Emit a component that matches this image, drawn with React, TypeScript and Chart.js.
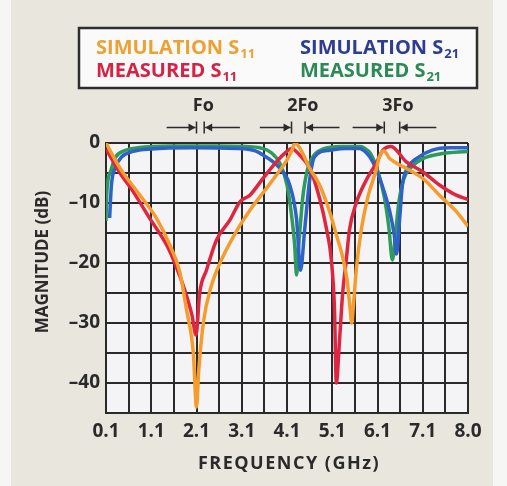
import React, { useEffect, useRef } from "react";
import { Chart, registerables } from "chart.js";

Chart.register(...registerables);

// ---- Data (frequency axis in GHz; the right edge grid line is labelled "8.0") ----
const simS11Freq = [0.1, 0.41, 0.85, 1.22, 1.51, 1.73, 1.88, 2.03, 2.1, 2.15, 2.26, 2.42, 2.65, 3.0, 3.3, 3.6, 3.9, 4.1, 4.22, 4.27, 4.38, 4.6, 4.82, 5.04, 5.19, 5.33, 5.43, 5.5, 5.53, 5.56, 5.63, 5.74, 5.89, 6.07, 6.14, 6.24, 6.37, 6.73, 7.1, 7.47, 7.84, 8.1];
const simS11Mag = [0, -4.2, -8.7, -12.6, -17, -21.5, -27.8, -35, -44, -37.8, -29.5, -24, -19.5, -14.5, -11, -8, -5, -2.8, -1, 0, -0.8, -4.2, -7, -11.4, -15.3, -19, -23, -28, -30, -27.8, -21.2, -14.5, -8.9, -4.5, -2.3, -1.3, -2.6, -4.2, -5.9, -8.7, -11.4, -13.9];

const measS11Freq = [0.1, 0.26, 0.41, 0.7, 1.07, 1.44, 1.62, 1.84, 2.0, 2.09, 2.17, 2.32, 2.54, 2.84, 3.06, 3.28, 3.57, 3.87, 4.09, 4.2, 4.38, 4.6, 4.82, 4.97, 5.08, 5.15, 5.19, 5.26, 5.33, 5.41, 5.48, 5.63, 5.85, 6.07, 6.22, 6.4, 6.73, 7.1, 7.47, 7.84, 8.1];
const measS11Mag = [-1, -3.1, -5, -8.1, -12.6, -17, -20, -24.5, -28.7, -32, -25, -21.2, -16.2, -12.8, -9.8, -8.7, -5.9, -3.1, -1.45, -0.9, -2, -4.2, -9.2, -14.2, -19.5, -27.8, -40, -33, -25, -19.5, -14.5, -10, -6.2, -3.4, -1.2, -0.6, -3.1, -4.8, -7, -8.7, -9.4];

const simS21Freq = [0.18, 0.22, 0.3, 0.45, 0.7, 1.1, 2.0, 3.0, 3.4, 3.57, 3.94, 4.16, 4.31, 4.4, 4.49, 4.6, 4.71, 5.04, 5.4, 5.7, 5.85, 6.0, 6.2, 6.37, 6.47, 6.52, 6.59, 6.65, 6.76, 6.96, 7.31, 7.69, 8.1];
const simS21Mag = [-12.5, -7, -4.2, -2.3, -1.4, -1, -0.8, -0.9, -1.3, -2, -4.2, -7, -12.6, -21.2, -14.5, -6.2, -2.3, -1.2, -0.9, -0.9, -1.6, -3.2, -7, -11.4, -15.3, -18.5, -12.6, -7, -4.2, -2.6, -1.2, -0.8, -0.8];

const measS21Freq = [0.1, 0.12, 0.2, 0.3, 0.5, 0.8, 1.5, 2.5, 3.2, 3.5, 3.75, 3.95, 4.1, 4.2, 4.27, 4.31, 4.36, 4.45, 4.55, 4.7, 4.9, 5.3, 5.7, 5.8, 5.95, 6.1, 6.25, 6.35, 6.43, 6.5, 6.57, 6.68, 6.85, 7.1, 7.5, 8.1];
const measS21Mag = [-13, -8, -4.8, -2.5, -1.3, -0.8, -0.5, -0.5, -0.6, -0.8, -1.6, -3.5, -7, -12, -17, -22, -17, -9, -4.5, -2, -1, -0.6, -0.6, -0.8, -1.8, -4.5, -9, -14, -19.5, -15, -10, -6, -4, -2.6, -1.8, -1.4];

// Axis ticks / labels
const xGridValues = [0.1, 0.6, 1.1, 1.6, 2.1, 2.6, 3.1, 3.6, 4.1, 4.6, 5.1, 5.6, 6.1, 6.6, 7.1, 7.6, 8.1];
const xLabelValues = [0.1, 1.1, 2.1, 3.1, 4.1, 5.1, 6.1, 7.1, 8.1];
const xLabelTexts = ["0.1", "1.1", "2.1", "3.1", "4.1", "5.1", "6.1", "7.1", "8.0"];
const yLabelValues = [0, -10, -20, -30, -40];
const yLabelTexts = ["0", "\u201310", "\u201320", "\u201330", "\u201340"];

// Harmonic markers
const harmonicLabels = ["Fo", "2Fo", "3Fo"];
const harmonicTextX = [2.25, 4.45, 6.55];
const harmonicBarLeft = [2.1, 4.2, 6.25];
const harmonicBarRight = [2.27, 4.5, 6.59];
const harmonicArrowFrom = [1.44, 3.5, 5.55];
const harmonicArrowTo = [3.06, 5.26, 7.4];

const FONT = '"Open Sans", "DejaVu Sans", sans-serif';
const INK = "#2a2a2a";

const toPoints = (xs: number[], ys: number[]) => xs.map((x, i) => ({ x, y: ys[i] }));

const bgPlugin = {
  id: "bgPlugin",
  beforeDraw(chart: any) {
    const { ctx, width, height, chartArea } = chart;
    ctx.save();
    ctx.fillStyle = "#e9e6de";
    ctx.fillRect(0, 0, width, height);
    ctx.fillStyle = "#f6f6f4";
    ctx.fillRect(0, 0, 11, height);
    ctx.fillRect(width - 14, 0, 14, height);
    ctx.fillStyle = "#f4f4f6";
    ctx.fillRect(chartArea.left, chartArea.top, chartArea.right - chartArea.left, chartArea.bottom - chartArea.top);
    ctx.restore();
  },
};

function drawSubLabel(ctx: CanvasRenderingContext2D, x: number, y: number, main: string, sub: string, color: string) {
  ctx.fillStyle = color;
  ctx.font = `bold 20px ${FONT}`;
  ctx.textAlign = "left";
  ctx.textBaseline = "alphabetic";
  ctx.fillText(main, x, y);
  const w = ctx.measureText(main).width;
  ctx.font = `bold 13px ${FONT}`;
  ctx.fillText(sub, x + w + 1, y + 4);
}

const overlayPlugin = {
  id: "overlayPlugin",
  afterDraw(chart: any) {
    const { ctx } = chart;
    const xs = chart.scales.x;
    ctx.save();
    // legend box
    ctx.fillStyle = "#fafafa";
    ctx.fillRect(79, 28, 398, 60);
    ctx.strokeStyle = "#2e2e2e";
    ctx.lineWidth = 2.5;
    ctx.strokeRect(79, 28, 398, 60);
    drawSubLabel(ctx, 96, 54, "SIMULATION S", "11", "#eea133");
    drawSubLabel(ctx, 96, 77, "MEASURED S", "11", "#d62243");
    drawSubLabel(ctx, 300, 54, "SIMULATION S", "21", "#2d3d8f");
    drawSubLabel(ctx, 300, 77, "MEASURED S", "21", "#2b8a56");

    // harmonic markers
    const ay = 127.5;
    ctx.strokeStyle = INK;
    ctx.fillStyle = INK;
    ctx.lineWidth = 1.5;
    harmonicLabels.forEach((lab, i) => {
      ctx.font = `bold 18px ${FONT}`;
      ctx.textAlign = "center";
      ctx.textBaseline = "alphabetic";
      ctx.fillText(lab, xs.getPixelForValue(harmonicTextX[i]), 111);
      const bl = xs.getPixelForValue(harmonicBarLeft[i]);
      const br = xs.getPixelForValue(harmonicBarRight[i]);
      const a0 = xs.getPixelForValue(harmonicArrowFrom[i]);
      const a1 = xs.getPixelForValue(harmonicArrowTo[i]);
      ctx.beginPath();
      ctx.moveTo(a0, ay);
      ctx.lineTo(bl - 1, ay);
      ctx.moveTo(bl, ay - 6);
      ctx.lineTo(bl, ay + 6);
      ctx.moveTo(br, ay - 6);
      ctx.lineTo(br, ay + 6);
      ctx.moveTo(br + 1, ay);
      ctx.lineTo(a1, ay);
      ctx.stroke();
      ctx.beginPath();
      ctx.moveTo(bl - 1, ay);
      ctx.lineTo(bl - 8, ay - 4);
      ctx.lineTo(bl - 8, ay + 4);
      ctx.closePath();
      ctx.moveTo(br + 1, ay);
      ctx.lineTo(br + 8, ay - 4);
      ctx.lineTo(br + 8, ay + 4);
      ctx.closePath();
      ctx.fill();
    });

    // axis titles
    ctx.fillStyle = INK;
    ctx.textAlign = "center";
    ctx.textBaseline = "middle";
    ctx.font = `bold 18px ${FONT}`;
    (ctx as any).letterSpacing = "1.5px";
    ctx.fillText("FREQUENCY (GHz)", 289, 464);
    (ctx as any).letterSpacing = "0px";
    ctx.font = `bold 17px ${FONT}`;
    ctx.translate(43, 262);
    ctx.rotate(-Math.PI / 2);
    ctx.fillText("MAGNITUDE (dB)", 0, 0);
    ctx.restore();
  },
};

export default function App() {
  const ref = useRef<HTMLCanvasElement | null>(null);

  useEffect(() => {
    document.body.style.margin = "0";
    const canvas = ref.current;
    if (!canvas) return;
    const lineStyle = { borderWidth: 3.5, pointRadius: 0, fill: false, cubicInterpolationMode: "monotone" as const };
    const chart = new Chart(canvas, {
      type: "line",
      data: {
        datasets: [
          { label: "MEASURED S21", data: toPoints(measS21Freq, measS21Mag), borderColor: "#2e9a5c", order: 4, ...lineStyle },
          { label: "SIMULATION S21", data: toPoints(simS21Freq, simS21Mag), borderColor: "#2f62c9", order: 3, ...lineStyle },
          { label: "MEASURED S11", data: toPoints(measS11Freq, measS11Mag), borderColor: "#de2640", order: 2, ...lineStyle },
          { label: "SIMULATION S11", data: toPoints(simS11Freq, simS11Mag), borderColor: "#f59c2c", order: 1, ...lineStyle },
        ],
      },
      options: {
        responsive: false,
        animation: false,
        parsing: false as any,
        layout: { padding: { top: 143, right: 39, left: 0, bottom: 0 } },
        plugins: { legend: { display: false }, tooltip: { enabled: false } },
        scales: {
          x: {
            type: "linear",
            min: 0.1,
            max: 8.1,
            afterBuildTicks: (scale: any) => {
              scale.ticks = xGridValues.map((v) => ({ value: v }));
            },
            afterFit: (scale: any) => {
              scale.height = 73;
            },
            grid: { color: INK, lineWidth: 2, drawTicks: false },
            border: { display: true, color: INK, width: 2 },
            ticks: {
              autoSkip: false,
              maxRotation: 0,
              padding: 7,
              color: INK,
              font: { family: FONT, size: 19, weight: "bold" },
              callback: (value: any) => {
                const idx = xLabelValues.findIndex((v) => Math.abs(v - Number(value)) < 1e-6);
                return idx >= 0 ? xLabelTexts[idx] : "";
              },
            },
          },
          y: {
            type: "linear",
            min: -45,
            max: 0,
            afterFit: (scale: any) => {
              scale.width = 106;
            },
            grid: { color: INK, lineWidth: 2, drawTicks: false },
            border: { display: true, color: INK, width: 2 },
            ticks: {
              stepSize: 5,
              padding: 6,
              color: INK,
              font: { family: FONT, size: 19, weight: "bold" },
              callback: (value: any) => {
                const idx = yLabelValues.findIndex((v) => Math.abs(v - Number(value)) < 1e-6);
                return idx >= 0 ? yLabelTexts[idx] : "";
              },
            },
          },
        },
      } as any,
      plugins: [bgPlugin, overlayPlugin],
    });
    return () => chart.destroy();
  }, []);

  return <canvas ref={ref} width={507} height={486} style={{ display: "block" }} />;
}
